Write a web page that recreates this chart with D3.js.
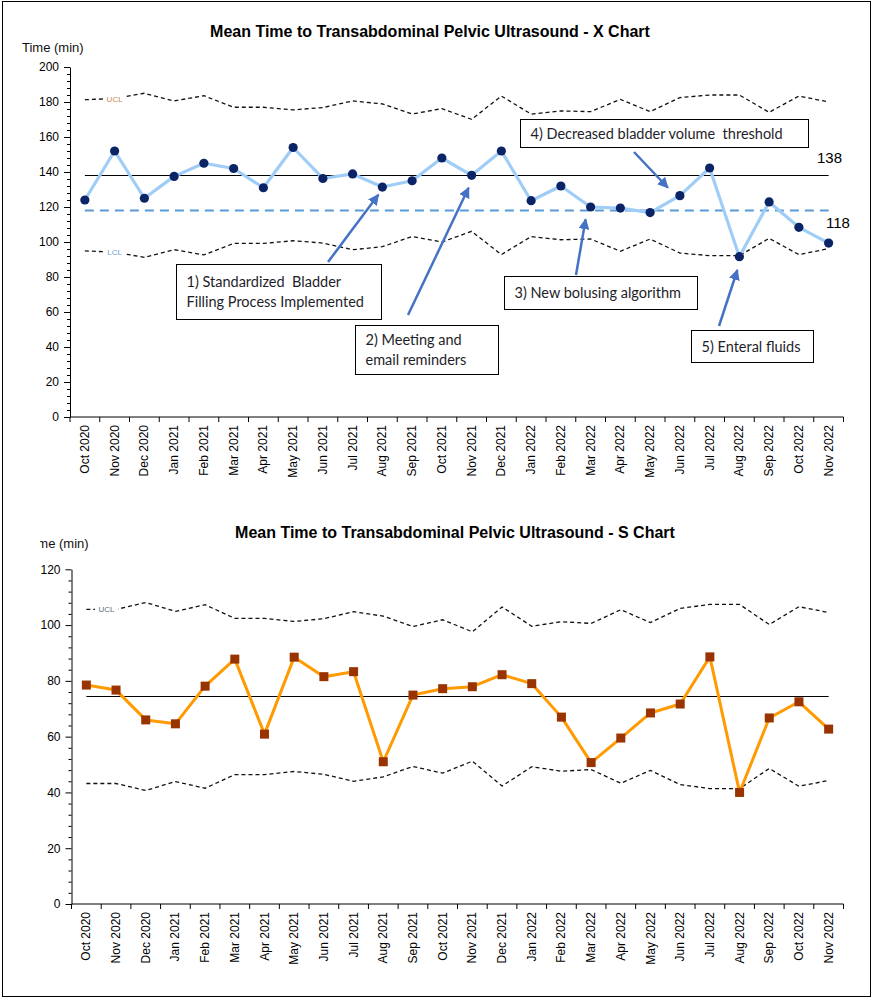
<!DOCTYPE html>
<html>
<head>
<meta charset="utf-8">
<script src="https://cdn.jsdelivr.net/npm/d3@7/dist/d3.min.js"></script>
<style>
  body { margin: 0; background: #fff; }
  svg { display: block; }
</style>
</head>
<body>
<div id="chart"></div>
<script>
/* --- dados ---------------------------------------------------------------- */
var months = ['Oct 2020', 'Nov 2020', 'Dec 2020', 'Jan 2021', 'Feb 2021', 'Mar 2021', 'Apr 2021',
  'May 2021', 'Jun 2021', 'Jul 2021', 'Aug 2021', 'Sep 2021', 'Oct 2021', 'Nov 2021', 'Dec 2021',
  'Jan 2022', 'Feb 2022', 'Mar 2022', 'Apr 2022', 'May 2022', 'Jun 2022', 'Jul 2022', 'Aug 2022',
  'Sep 2022', 'Oct 2022', 'Nov 2022'];

/* X chart (média) */
var xMeans = [124, 152, 125, 137.5, 145, 142, 131, 154, 136.3, 138.9, 131.4, 135, 148, 138.1, 152,
  123.6, 132, 120, 119.4, 116.8, 126.5, 142.3, 91.6, 122.9, 108.4, 99.4];
var xUcl = [181.3, 182, 185, 180.6, 183.6, 177, 177, 175.5, 176.8, 180.6, 178.9, 173.1, 176.2, 170.1,
  183.4, 173.1, 174.9, 174.5, 181.5, 174.5, 182.5, 184, 184, 174.1, 183.4, 180];
var xLcl = [94.9, 94.2, 91.2, 95.6, 92.6, 99.2, 99.2, 100.7, 99.4, 95.6, 97.3, 103.1, 100, 106.1,
  92.8, 103.1, 101.3, 101.7, 94.7, 101.7, 93.7, 92.2, 92.2, 102.1, 92.8, 96.2];
var xCenter = 138;
var xTarget = 118;
var xTicks = [0, 20, 40, 60, 80, 100, 120, 140, 160, 180, 200];

/* S chart (desvio) */
var sValues = [78.5, 76.7, 66, 64.6, 78.1, 87.8, 60.9, 88.5, 81.5, 83.3, 51, 74.9, 77.2, 77.9, 82.2,
  79, 67, 50.7, 59.5, 68.5, 71.7, 88.6, 40, 66.7, 72.5, 62.7];
var sUcl = [105.6, 105.6, 108.1, 104.9, 107.3, 102.4, 102.4, 101.3, 102.3, 104.8, 103.2, 99.5, 101.9,
  97.6, 106.5, 99.6, 101.2, 100.6, 105.5, 100.9, 106, 107.4, 107.4, 100.2, 106.6, 104.5];
var sLcl = [43.2, 43.2, 40.7, 43.9, 41.5, 46.4, 46.4, 47.5, 46.5, 44, 45.6, 49.3, 46.9, 51.2, 42.3,
  49.2, 47.6, 48.2, 43.3, 47.9, 42.8, 41.4, 41.4, 48.6, 42.2, 44.3];
var sCenter = 74.4;
var sTicks = [0, 20, 40, 60, 80, 100, 120];

/* anotações do X chart */
var noteLines = [
  ['1) Standardized  Bladder', 'Filling Process Implemented'],
  ['2) Meeting and', 'email reminders'],
  ['3) New bolusing algorithm'],
  ['4) Decreased bladder volume  threshold'],
  ['5) Enteral fluids']
];
var noteMonth = ['Aug 2021', 'Nov 2021', 'Mar 2022', 'Jun 2022', 'Aug 2022'];
var noteValue = [127, 131, 113, 131, 84];

/* --- svg ------------------------------------------------------------------ */
var W = 873, H = 1000;
var AX = 'Arial, "Liberation Sans", sans-serif';
var NOTE_FONT = 'Lato, "Open Sans", sans-serif';

var svg = d3.select('#chart').append('svg').attr('width', W).attr('height', H);

var defs = svg.append('defs');
defs.append('marker').attr('id', 'arrow')
  .attr('viewBox', '0 0 10 10').attr('refX', 9).attr('refY', 5)
  .attr('markerWidth', 4.4).attr('markerHeight', 4.4).attr('orient', 'auto')
  .append('path').attr('d', 'M0,0 L10,5 L0,10 Z').attr('fill', '#4472c4');
defs.append('clipPath').attr('id', 'clipS')
  .append('rect').attr('x', 40).attr('y', 520).attr('width', 200).attr('height', 40);

/* moldura */
svg.append('rect').attr('x', 2.5).attr('y', 1.5).attr('width', 868).attr('height', 995)
  .attr('fill', 'none').attr('stroke', '#000').attr('stroke-width', 1);

/* --- um painel de controle (X ou S) --------------------------------------- */
function panel(o) {
  var g = svg.append('g');
  var x = d3.scaleBand().domain(months).range([o.left, o.right]);
  var y = d3.scaleLinear().domain([0, o.ticks[o.ticks.length - 1]]).range([o.bottom, o.top]);
  function cx(m) { return x(m) + x.bandwidth() / 2; }

  /* título */
  g.append('text').attr('x', o.titleX).attr('y', o.titleY)
    .attr('text-anchor', 'middle').attr('font-family', AX).attr('font-size', 16)
    .attr('font-weight', 'bold').attr('fill', '#000').text(o.title);

  /* rótulo do eixo y */
  g.append('text').attr('x', o.ylabX).attr('y', o.ylabY)
    .attr('font-family', AX).attr('font-size', 13).attr('fill', '#111')
    .attr('clip-path', o.clip || null).text('Time (min)');

  /* eixo y: principais + secundárias */
  var step = o.ticks[1] - o.ticks[0];
  var minor = [];
  o.ticks.forEach(function (t, i) {
    if (i === 0) return;
    for (var k = 1; k < 5; k++) minor.push(t - step + k * step / 5);
  });
  g.append('g').attr('transform', 'translate(' + o.left + ',0)')
    .call(d3.axisLeft(y).tickValues(minor).tickSize(3).tickFormat(''))
    .call(function (s) { s.select('.domain').remove(); });
  var ya = g.append('g').attr('transform', 'translate(' + o.left + ',0)')
    .call(d3.axisLeft(y).tickValues(o.ticks).tickSize(6).tickPadding(5).tickSizeOuter(0));
  ya.selectAll('text').attr('font-family', AX).attr('font-size', 12).attr('fill', '#000');
  ya.selectAll('line, path').attr('stroke', '#000');

  /* eixo x: marcas entre as categorias */
  var xa = g.append('g').attr('transform', 'translate(0,' + o.bottom + ')');
  xa.append('line').attr('x1', o.left).attr('x2', o.right).attr('stroke', '#000');
  xa.selectAll('line.tk').data(months.concat(['end'])).join('line').attr('class', 'tk')
    .attr('x1', function (d, i) { return o.left + i * x.step(); })
    .attr('x2', function (d, i) { return o.left + i * x.step(); })
    .attr('y1', 0).attr('y2', 5).attr('stroke', '#000');
  xa.selectAll('text').data(months).join('text')
    .attr('transform', function (d) { return 'translate(' + (cx(d) + 4) + ',8) rotate(-90)'; })
    .attr('text-anchor', 'end').attr('font-family', AX).attr('font-size', 12).attr('fill', '#000')
    .text(function (d) { return d; });

  /* limites de controle */
  var lim = d3.line().x(function (d, i) { return cx(months[i]); }).y(function (d) { return y(d); });
  [o.ucl, o.lcl].forEach(function (arr) {
    g.append('path').attr('d', lim(arr)).attr('fill', 'none')
      .attr('stroke', '#111').attr('stroke-width', 1.3).attr('stroke-dasharray', '4,3');
  });

  /* rótulos UCL / LCL sobre a linha */
  o.limLabels.forEach(function (L) {
    var arr = L.name === 'UCL' ? o.ucl : o.lcl;
    var mx = cx(months[0]) + o.labAt * x.step();
    var my = y(arr[0] + (arr[1] - arr[0]) * o.labAt);
    g.append('rect').attr('x', mx - 11.5).attr('y', my - 5).attr('width', 23).attr('height', 10).attr('fill', '#fff');
    g.append('text').attr('x', mx).attr('y', my + 3).attr('text-anchor', 'middle')
      .attr('font-family', AX).attr('font-size', 8).attr('fill', L.color).text(L.name);
  });

  /* linha central */
  g.append('line').attr('x1', cx(months[0])).attr('x2', cx(months[months.length - 1]))
    .attr('y1', y(o.center)).attr('y2', y(o.center)).attr('stroke', '#000').attr('stroke-width', 1.2);

  return { g: g, x: x, y: y, cx: cx };
}

/* --- X chart -------------------------------------------------------------- */
var P1 = panel({
  title: 'Mean Time to Transabdominal Pelvic Ultrasound - X Chart', titleX: 430, titleY: 37,
  ylabX: 22, ylabY: 52,
  left: 70, right: 843.5, top: 67, bottom: 417, ticks: xTicks,
  ucl: xUcl, lcl: xLcl, center: xCenter, labAt: 1.0,
  limLabels: [{ name: 'UCL', color: '#c8894a' }, { name: 'LCL', color: '#6f9fd6' }]
});

/* meta tracejada (118) */
P1.g.append('line').attr('x1', P1.cx(months[0])).attr('x2', P1.cx(months[months.length - 1]))
  .attr('y1', P1.y(xTarget)).attr('y2', P1.y(xTarget))
  .attr('stroke', '#5b9bd5').attr('stroke-width', 2).attr('stroke-dasharray', '9,6');

P1.g.append('text').attr('x', 817).attr('y', 163).attr('font-family', AX).attr('font-size', 15)
  .attr('fill', '#000').text(xCenter);
P1.g.append('text').attr('x', 826).attr('y', 228).attr('font-family', AX).attr('font-size', 15)
  .attr('fill', '#000').text(xTarget);

var meanLine = d3.line().x(function (d, i) { return P1.cx(months[i]); }).y(function (d) { return P1.y(d); });
P1.g.append('path').attr('d', meanLine(xMeans)).attr('fill', 'none')
  .attr('stroke', '#9fcdf7').attr('stroke-width', 3.2).attr('stroke-linejoin', 'round');
P1.g.selectAll('circle.pt').data(xMeans).join('circle').attr('class', 'pt')
  .attr('cx', function (d, i) { return P1.cx(months[i]); })
  .attr('cy', function (d) { return P1.y(d); })
  .attr('r', 4.6).attr('fill', '#0b2466');

/* caixas de anotação */
var boxes = [
  { x: 176.5, y: 264.5, w: 205, h: 55, fx: 328, fy: 262, dx: -4 },
  { x: 355.5, y: 325.5, w: 143, h: 49, fx: 408, fy: 315, dx: -3 },
  { x: 504.5, y: 276.5, w: 193, h: 33, fx: 576, fy: 275, dx: -5 },
  { x: 520.5, y: 119.5, w: 288, h: 28, fx: 634, fy: 152, dx: -12 },
  { x: 691.5, y: 330.5, w: 122, h: 32, fx: 719, fy: 326, dx: -2 }
];
boxes.forEach(function (b, i) {
  var tx = P1.cx(noteMonth[i]) + b.dx, ty = P1.y(noteValue[i]);
  P1.g.append('line').attr('x1', b.fx).attr('y1', b.fy).attr('x2', tx).attr('y2', ty)
    .attr('stroke', '#4472c4').attr('stroke-width', 2.5).attr('marker-end', 'url(#arrow)');
  P1.g.append('rect').attr('x', b.x).attr('y', b.y).attr('width', b.w).attr('height', b.h)
    .attr('fill', '#fff').attr('stroke', '#000').attr('stroke-width', 1);
  var lines = noteLines[i];
  var t = P1.g.append('text').attr('font-family', NOTE_FONT).attr('font-size', 14.5).attr('fill', '#1e1e2a')
    .attr('xml:space', 'preserve');
  lines.forEach(function (s, k) {
    t.append('tspan').attr('x', b.x + 10)
      .attr('y', b.y + b.h / 2 + 5 + (k - (lines.length - 1) / 2) * 20).text(s);
  });
});

/* --- S chart -------------------------------------------------------------- */
var P2 = panel({
  title: 'Mean Time to Transabdominal Pelvic Ultrasound - S Chart', titleX: 455, titleY: 538,
  ylabX: 27, ylabY: 548, clip: 'url(#clipS)',
  left: 71.5, right: 843.5, top: 569.3, bottom: 904, ticks: sTicks,
  ucl: sUcl, lcl: sLcl, center: sCenter, labAt: 0.68,
  limLabels: [{ name: 'UCL', color: '#5d6a7e' }]
});

var sLine = d3.line().x(function (d, i) { return P2.cx(months[i]); }).y(function (d) { return P2.y(d); });
P2.g.append('path').attr('d', sLine(sValues)).attr('fill', 'none')
  .attr('stroke', '#ff9a00').attr('stroke-width', 3).attr('stroke-linejoin', 'round');
P2.g.selectAll('rect.pt').data(sValues).join('rect').attr('class', 'pt')
  .attr('x', function (d, i) { return P2.cx(months[i]) - 4.5; })
  .attr('y', function (d) { return P2.y(d) - 4.5; })
  .attr('width', 9).attr('height', 9).attr('fill', '#993300');
</script>
</body>
</html>
